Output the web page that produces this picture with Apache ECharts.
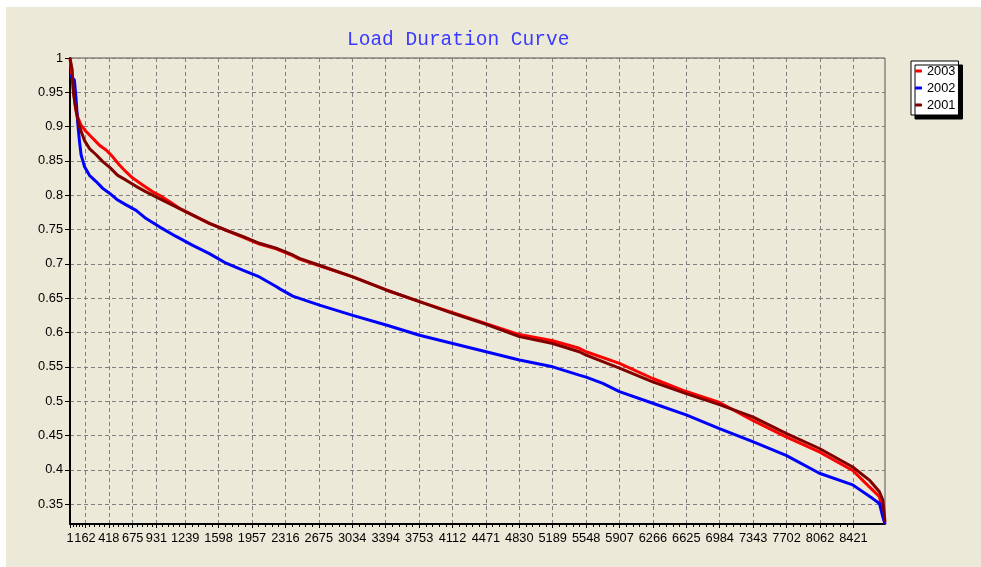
<!DOCTYPE html>
<html>
<head>
<meta charset="utf-8">
<title>Load Duration Curve</title>
<script src="https://cdn.jsdelivr.net/npm/echarts@6.0.0/dist/echarts.min.js"></script>
<style>
  html, body { margin: 0; padding: 0; background: #fff; }
  #chart { width: 981px; height: 567px; }
</style>
</head>
<body>
<div id="chart"></div>
<script>
// tick labels as printed on the axes
const xTickLabels = [1, 162, 418, 675, 931, 1239, 1598, 1957, 2316, 2675, 3034, 3394, 3753,
  4112, 4471, 4830, 5189, 5548, 5907, 6266, 6625, 6984, 7343, 7702, 8062, 8421];
const yTickLabels = [0.35, 0.4, 0.45, 0.5, 0.55, 0.6, 0.65, 0.7, 0.75, 0.8, 0.85, 0.9, 0.95, 1];

// values (hour of year, load p.u.)
const hours2003 = [1, 30, 59, 84, 120, 174, 245, 317, 389, 460, 532, 604, 675, 782, 890, 962,
  1069, 1177, 1320, 1499, 1679, 1857, 2037, 2216, 2395, 2467, 2682, 3040, 3399, 3757, 4115,
  4473, 4831, 5189, 5474, 5548, 5906, 6264, 6623, 6981, 7339, 7697, 8055, 8413, 8592, 8700,
  8737, 8760];
const load2003 = [1.0, 0.963, 0.929, 0.914, 0.902, 0.893, 0.883, 0.873, 0.866, 0.856, 0.844,
  0.834, 0.825, 0.815, 0.805, 0.800, 0.791, 0.781, 0.771, 0.759, 0.749, 0.739, 0.729, 0.722,
  0.712, 0.707, 0.697, 0.681, 0.662, 0.645, 0.629, 0.613, 0.597, 0.588, 0.577, 0.572, 0.555,
  0.533, 0.514, 0.498, 0.472, 0.448, 0.426, 0.399, 0.375, 0.361, 0.336, 0.321];

const hours2002 = [1, 48, 67, 84, 102, 120, 156, 210, 282, 353, 425, 514, 604, 711, 819, 962,
  1141, 1320, 1499, 1679, 1857, 2037, 2216, 2252, 2395, 2682, 3040, 3399, 3757, 4115, 4473,
  4831, 5189, 5474, 5548, 5727, 5906, 6264, 6623, 6981, 7339, 7697, 8055, 8413, 8628, 8700,
  8737, 8760];
const load2002 = [0.975, 0.968, 0.939, 0.905, 0.880, 0.859, 0.842, 0.829, 0.820, 0.810, 0.803,
  0.793, 0.786, 0.778, 0.766, 0.754, 0.740, 0.727, 0.715, 0.701, 0.691, 0.681, 0.667, 0.664,
  0.653, 0.640, 0.625, 0.611, 0.596, 0.584, 0.572, 0.560, 0.550, 0.538, 0.535, 0.526, 0.514,
  0.497, 0.480, 0.460, 0.441, 0.421, 0.395, 0.378, 0.358, 0.351, 0.331, 0.321];

const hours2001 = [1, 24, 38, 67, 102, 156, 210, 282, 353, 425, 514, 604, 711, 819, 962, 1141,
  1320, 1499, 1679, 1857, 2037, 2216, 2395, 2467, 2682, 3040, 3399, 3757, 4115, 4473, 4831,
  5189, 5474, 5548, 5906, 6264, 6623, 6981, 7339, 7697, 8055, 8413, 8592, 8700, 8737, 8760];
const load2001 = [1.0, 0.983, 0.949, 0.922, 0.900, 0.880, 0.868, 0.859, 0.849, 0.841, 0.829,
  0.822, 0.813, 0.805, 0.795, 0.783, 0.771, 0.759, 0.749, 0.740, 0.730, 0.723, 0.713, 0.708,
  0.698, 0.681, 0.662, 0.645, 0.628, 0.612, 0.594, 0.584, 0.572, 0.567, 0.548, 0.528, 0.511,
  0.495, 0.477, 0.453, 0.431, 0.404, 0.385, 0.368, 0.356, 0.324];

function pairs(xs, ys) {
  return xs.map((x, i) => [x, ys[i]]);
}

// four small ticks between each pair of labelled ticks
const minorTicks = [];
for (let i = 0; i < xTickLabels.length - 1; i++) {
  const a = xTickLabels[i], b = xTickLabels[i + 1];
  for (let k = 1; k < 5; k++) minorTicks.push(a + (b - a) * k / 5);
}

const font = 'Liberation Sans, Arial, sans-serif';
const gridLine = { show: true, lineStyle: { color: '#808080', width: 1, type: [4, 3] } };

const chart = echarts.init(document.getElementById('chart'));
chart.setOption({
  backgroundColor: '#fff',
  animation: false,
  graphic: [{
    type: 'rect', z: -10, silent: true,
    shape: { x: 6, y: 7, width: 975, height: 560 },
    style: { fill: '#ECE9D8' }
  }],
  title: {
    text: 'Load Duration Curve',
    left: 347, top: 30, padding: 0,
    textStyle: { fontFamily: 'Liberation Mono, Courier New, monospace', fontSize: 19.5,
      fontWeight: 'normal', color: '#3a3aff' }
  },
  legend: {
    data: ['2003', '2002', '2001'],
    orient: 'vertical',
    left: 911, top: 61,
    padding: [3, 3, 3, 4],
    itemWidth: 7, itemHeight: 3, itemGap: 3,
    icon: 'roundRect',
    backgroundColor: '#fff',
    borderColor: '#000', borderWidth: 1,
    shadowColor: '#000', shadowOffsetX: 4, shadowOffsetY: 4, shadowBlur: 0,
    textStyle: { fontFamily: font, fontSize: 12.8, color: '#000', lineHeight: 14 }
  },
  grid: {
    left: 70, top: 58, right: 96, bottom: 43,
    show: true, borderColor: '#555', borderWidth: 1, backgroundColor: 'transparent'
  },
  xAxis: [{
    type: 'value', min: 1, max: 8760,
    axisLine: { show: true, lineStyle: { color: '#000', width: 2 } },
    axisTick: { show: true, customValues: xTickLabels, length: 4, lineStyle: { color: '#000' } },
    axisLabel: {
      customValues: xTickLabels, margin: 8, color: '#000', fontSize: 12.8, fontFamily: font,
      formatter: v => String(v)
    },
    splitLine: gridLine
  }, {
    type: 'value', min: 1, max: 8760, position: 'bottom',
    axisLine: { show: false },
    axisTick: { show: true, customValues: minorTicks, length: 3, lineStyle: { color: '#000' } },
    axisLabel: { show: false },
    splitLine: { show: false }
  }],
  yAxis: {
    type: 'value', min: 0.321, max: 1,
    axisLine: { show: true, lineStyle: { color: '#000', width: 2 } },
    axisTick: { show: true, customValues: yTickLabels, length: 5, lineStyle: { color: '#000' } },
    axisLabel: {
      customValues: yTickLabels, margin: 7, color: '#000', fontSize: 12.8, fontFamily: font,
      formatter: v => String(+v.toFixed(2))
    },
    splitLine: gridLine
  },
  series: [
    { name: '2003', type: 'line', data: pairs(hours2003, load2003), symbol: 'none',
      color: '#ff0000', lineStyle: { color: '#ff0000', width: 3 } },
    { name: '2002', type: 'line', data: pairs(hours2002, load2002), symbol: 'none',
      color: '#0000ff', lineStyle: { color: '#0000ff', width: 3 } },
    { name: '2001', type: 'line', data: pairs(hours2001, load2001), symbol: 'none',
      color: '#800000', lineStyle: { color: '#800000', width: 3 } }
  ]
});
</script>
</body>
</html>
